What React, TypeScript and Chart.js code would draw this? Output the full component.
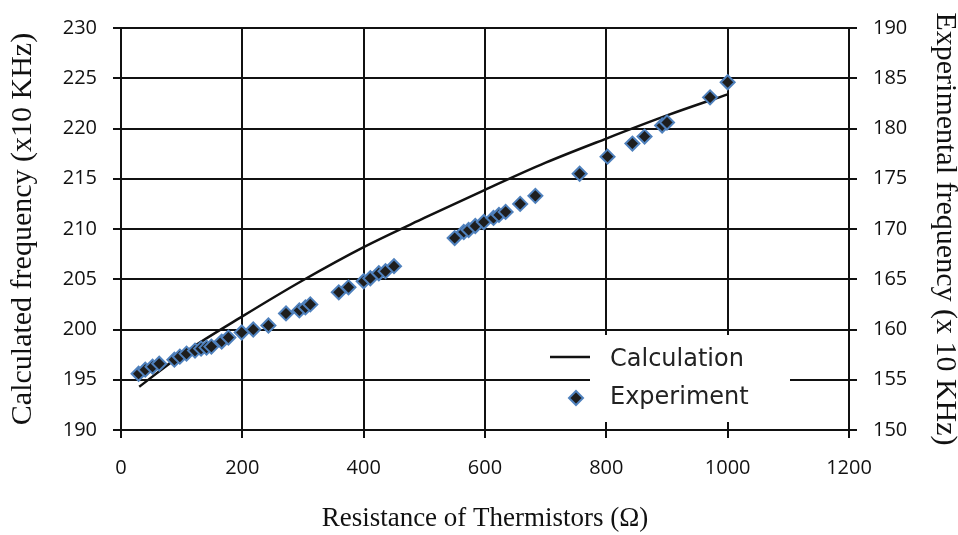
import { useEffect, useRef } from 'react';
import { Chart, registerables } from 'chart.js';

Chart.register(...registerables);

// ---- Data ----
const expResistance = [
  29, 40, 52, 63, 88, 97, 108, 122, 132, 141, 149, 166, 177, 199, 218, 243,
  272, 294, 304, 312, 359, 375, 400, 411, 425, 436, 450,
  550, 565, 573, 584, 598, 614, 623, 634, 658, 683, 756, 802,
  843, 863, 892, 900, 971, 1000,
];
const expFrequency = [
  155.6, 156.0, 156.3, 156.6, 157.0, 157.3, 157.6, 157.9, 158.1, 158.2, 158.3, 158.8, 159.2, 159.7, 160.0, 160.4,
  161.6, 161.9, 162.2, 162.5, 163.7, 164.2, 164.8, 165.1, 165.6, 165.8, 166.3,
  169.1, 169.7, 169.9, 170.3, 170.7, 171.1, 171.4, 171.7, 172.5, 173.3, 175.5, 177.2,
  178.5, 179.2, 180.3, 180.6, 183.1, 184.6,
];
const calcResistance = [30, 100, 200, 300, 400, 500, 600, 700, 800, 900, 1000];
const calcFrequency = [194.3, 197.5, 201.3, 204.9, 208.2, 211.1, 213.9, 216.6, 219.0, 221.3, 223.4];

const seriesLabels = ['Calculation', 'Experiment'];
const xTitle = 'Resistance of Thermistors (Ω)';
const yLeftTitle = 'Calculated frequency (x10 KHz)';
const yRightTitle = 'Experimental frequency (x 10 KHz)';
const xRange = [0, 1200, 200];
const yLeftRange = [190, 230, 5];
const yRightRange = [150, 190, 5];

const GRID = '#111111';
const MARK_FILL = '#1e1e1e';
const MARK_BORDER = '#4f81bd';

const drawDiamond = (ctx: CanvasRenderingContext2D, x: number, y: number, r: number) => {
  ctx.beginPath();
  ctx.moveTo(x, y - r);
  ctx.lineTo(x + r, y);
  ctx.lineTo(x, y + r);
  ctx.lineTo(x - r, y);
  ctx.closePath();
  ctx.fillStyle = MARK_FILL;
  ctx.fill();
  ctx.strokeStyle = MARK_BORDER;
  ctx.lineWidth = 2;
  ctx.stroke();
};

const legendPlugin = {
  id: 'customLegend',
  afterDatasetsDraw(chart: any) {
    const { ctx, chartArea } = chart;
    const ox = chartArea.left;
    const oy = chartArea.top;
    ctx.save();
    ctx.fillStyle = '#ffffff';
    ctx.fillRect(ox + 469, oy + 307, 200, 87);
    // line sample
    ctx.strokeStyle = '#111111';
    ctx.lineWidth = 2.5;
    ctx.beginPath();
    ctx.moveTo(ox + 429, oy + 329);
    ctx.lineTo(ox + 469, oy + 329);
    ctx.stroke();
    // marker sample
    drawDiamond(ctx, ox + 455, oy + 370, 7);
    ctx.font = '24px "DejaVu Sans"';
    ctx.fillStyle = '#222222';
    ctx.textAlign = 'left';
    ctx.textBaseline = 'middle';
    ctx.fillText(seriesLabels[0], ox + 489, oy + 332);
    ctx.fillText(seriesLabels[1], ox + 489, oy + 370);
    ctx.restore();
  },
};

const plainTick = (v: number | string) => String(v);

export default function App() {
  const ref = useRef<HTMLCanvasElement | null>(null);

  useEffect(() => {
    if (!ref.current) return;
    const tickFont = { family: '"Open Sans"', size: 20 };
    const chart = new Chart(ref.current, {
      type: 'scatter',
      data: {
        datasets: [
          {
            label: seriesLabels[1],
            data: expResistance.map((x, i) => ({ x, y: expFrequency[i] })),
            yAxisID: 'y2',
            pointStyle: 'rectRot',
            pointRadius: 7,
            pointBackgroundColor: MARK_FILL,
            pointBorderColor: MARK_BORDER,
            pointBorderWidth: 2,
            showLine: false,
            order: 0,
          },
          {
            label: seriesLabels[0],
            type: 'line',
            data: calcResistance.map((x, i) => ({ x, y: calcFrequency[i] })),
            yAxisID: 'y',
            borderColor: '#111111',
            borderWidth: 2.5,
            pointRadius: 0,
            fill: false,
            cubicInterpolationMode: 'monotone',
            order: 1,
          } as any,
        ],
      },
      options: {
        animation: false,
        responsive: false,
        maintainAspectRatio: false,
        layout: { padding: { top: 24, left: 0, right: 0, bottom: 0 } },
        plugins: { legend: { display: false }, tooltip: { enabled: false } },
        scales: {
          x: {
            type: 'linear',
            position: 'bottom',
            min: xRange[0],
            max: xRange[1],
            afterFit: (s: any) => { s.height = 105; },
            ticks: { stepSize: xRange[2], font: tickFont, color: '#111', padding: 18, callback: plainTick },
            grid: { color: GRID, lineWidth: 2, tickLength: 8 },
            border: { color: GRID, width: 2 },
            title: {
              display: true,
              text: xTitle,
              font: { family: '"Liberation Serif"', size: 27 },
              color: '#111',
              padding: { top: 0, bottom: 0 },
            },
          },
          y: {
            type: 'linear',
            position: 'left',
            min: yLeftRange[0],
            max: yLeftRange[1],
            afterFit: (s: any) => { s.width = 121; },
            ticks: { stepSize: yLeftRange[2], font: tickFont, color: '#111', padding: 16, callback: plainTick },
            grid: { color: GRID, lineWidth: 2, tickLength: 8 },
            border: { color: GRID, width: 2 },
            title: {
              display: true,
              text: yLeftTitle,
              font: { family: '"Liberation Serif"', size: 30, lineHeight: 1.2 },
              color: '#111',
              padding: { top: 5, bottom: 0 },
            },
          },
          y2: {
            type: 'linear',
            position: 'right',
            min: yRightRange[0],
            max: yRightRange[1],
            afterFit: (s: any) => { s.width = 109; },
            ticks: { stepSize: yRightRange[2], font: tickFont, color: '#111', padding: 16, callback: plainTick },
            grid: { color: GRID, lineWidth: 2, tickLength: 8, drawOnChartArea: false },
            border: { color: GRID, width: 2 },
            title: {
              display: true,
              text: yRightTitle,
              font: { family: '"Liberation Serif"', size: 30, lineHeight: 0.8 },
              color: '#111',
              padding: { top: 1, bottom: 0 },
            },
          },
        },
      },
      plugins: [legendPlugin],
    } as any);
    return () => chart.destroy();
  }, []);

  return (
    <div style={{ position: 'fixed', left: 0, top: 0, width: 958, height: 535, background: '#fff' }}>
      <canvas ref={ref} width={958} height={535} style={{ display: 'block', width: 958, height: 535 }} />
    </div>
  );
}
